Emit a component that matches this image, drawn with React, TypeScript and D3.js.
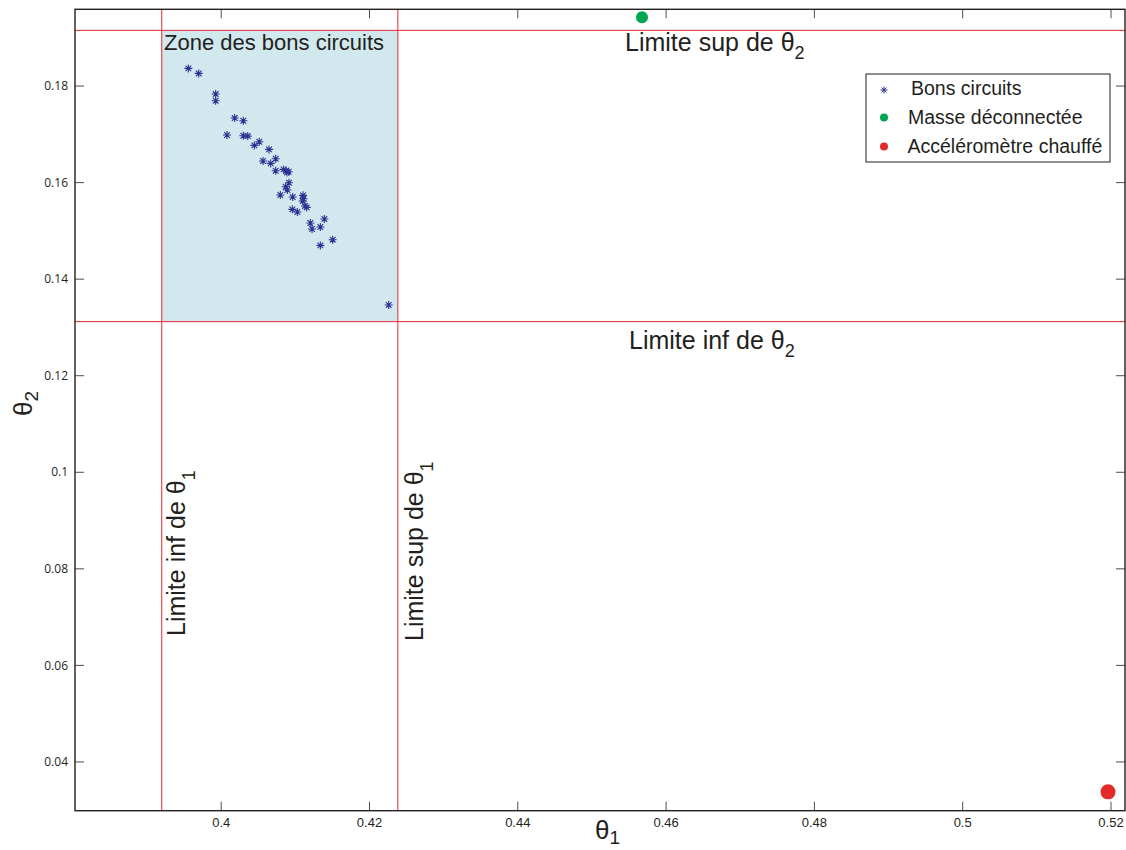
import React from "react";
import * as d3 from "d3";

// ---- data ----
const goodTheta1 = [
  0.39557, 0.39696, 0.39925, 0.39925, 0.40182, 0.40298, 0.40078, 0.40298, 0.40357, 0.40447,
  0.40514, 0.40645, 0.40564, 0.40667, 0.40735, 0.40735, 0.40842, 0.40874, 0.4091, 0.40887,
  0.40914, 0.40869, 0.40892, 0.40797, 0.40964, 0.41103, 0.41108, 0.41099, 0.4113, 0.41153,
  0.40959, 0.41027, 0.41202, 0.41391, 0.41225, 0.41337, 0.41337, 0.41503, 0.42259,
];
const goodTheta2 = [
  0.18366, 0.18262, 0.17834, 0.17696, 0.17337, 0.17282, 0.16985, 0.16971, 0.16964, 0.16771,
  0.16847, 0.16688, 0.16447, 0.16398, 0.16495, 0.16247, 0.16274, 0.16247, 0.16226, 0.16212,
  0.15998, 0.15915, 0.15846, 0.15743, 0.15701, 0.15736, 0.15667, 0.15618, 0.15515, 0.15487,
  0.15446, 0.15391, 0.15163, 0.15246, 0.15038, 0.1508, 0.147, 0.14818, 0.13465,
];
const disconnectedTheta1 = [0.45675];
const disconnectedTheta2 = [0.19423];
const heatedTheta1 = [0.5196];
const heatedTheta2 = [0.0338];

const theta1Limits = [0.39198, 0.42382];
const theta2Limits = [0.1312, 0.19154];

const xTicks = [0.4, 0.42, 0.44, 0.46, 0.48, 0.5, 0.52];
const xTickLabels = ["0.4", "0.42", "0.44", "0.46", "0.48", "0.5", "0.52"];
const yTicks = [0.04, 0.06, 0.08, 0.1, 0.12, 0.14, 0.16, 0.18];
const yTickLabels = ["0.04", "0.06", "0.08", "0.1", "0.12", "0.14", "0.16", "0.18"];

const legendLabels = ["Bons circuits", "Masse déconnectée", "Accéléromètre chauffé"];

// ---- layout ----
const W = 1126;
const H = 850;
const L = 75, R = 1125, T = 9.3, B = 810.7;

const BLUE = "#2e3192";
const GREEN = "#00a651";
const REDDOT = "#e32a2a";
const RED = "#e8262d";
const INK = "#231f20";

function asterisk(cx: number, cy: number, r: number) {
  const d = r * Math.SQRT1_2;
  return `M${cx - r},${cy}L${cx + r},${cy}M${cx},${cy - r}L${cx},${cy + r}` +
    `M${cx - d},${cy - d}L${cx + d},${cy + d}M${cx - d},${cy + d}L${cx + d},${cy - d}`;
}

export default function App() {
  const x = d3.scaleLinear().domain([0.38028, 0.52189]).range([L, R]);
  const y = d3.scaleLinear().domain([0.0299, 0.1959]).range([B, T]);

  const font = "'Liberation Sans', Arial, Helvetica, sans-serif";
  const tickLen = 9;

  return (
    <svg width={W} height={H} style={{ position: "absolute", left: 0, top: 0, background: "#fff" }}
      fontFamily={font}>
      {/* zone */}
      <rect x={x(theta1Limits[0])} y={y(theta2Limits[1])}
        width={x(theta1Limits[1]) - x(theta1Limits[0])}
        height={y(theta2Limits[0]) - y(theta2Limits[1])} fill="#d1e8ef" />

      {/* limit lines */}
      <line x1={L} x2={R} y1={y(theta2Limits[1])} y2={y(theta2Limits[1])} stroke={RED} strokeWidth={1} />
      <line x1={L} x2={R} y1={y(theta2Limits[0])} y2={y(theta2Limits[0])} stroke={RED} strokeWidth={1} />
      <line y1={T} y2={B} x1={x(theta1Limits[0])} x2={x(theta1Limits[0])} stroke={RED} strokeWidth={1} />
      <line y1={T} y2={B} x1={x(theta1Limits[1])} x2={x(theta1Limits[1])} stroke={RED} strokeWidth={1} />

      {/* axes box & ticks */}
      <rect x={L} y={T} width={R - L} height={B - T} fill="none" stroke={INK} strokeWidth={1.4} />
      {xTicks.map((t, i) => (
        <g key={"xt" + i}>
          <line x1={x(t)} x2={x(t)} y1={B} y2={B - tickLen} stroke={INK} strokeWidth={0.8} />
          <line x1={x(t)} x2={x(t)} y1={T} y2={T + tickLen} stroke={INK} strokeWidth={0.8} />
          <text x={x(t)} y={827} textAnchor="middle" fontSize={13}
            fontFamily="'Liberation Sans Narrow', 'Liberation Sans', sans-serif" fill={INK}>{xTickLabels[i]}</text>
        </g>
      ))}
      {yTicks.map((t, i) => (
        <g key={"yt" + i}>
          <line x1={L} x2={L + tickLen} y1={y(t)} y2={y(t)} stroke={INK} strokeWidth={0.8} />
          <line x1={R} x2={R - tickLen} y1={y(t)} y2={y(t)} stroke={INK} strokeWidth={0.8} />
          <text x={68} y={y(t)} dy="0.35em" textAnchor="end" fontSize={12}
            fontFamily="'Open Sans', sans-serif" fill={INK}>{yTickLabels[i]}</text>
        </g>
      ))}

      {/* good circuits */}
      {goodTheta1.map((t1, i) => (
        <path key={"g" + i} d={asterisk(x(t1), y(goodTheta2[i]), 4)} stroke={BLUE} strokeWidth={1.1} fill="none" />
      ))}
      {disconnectedTheta1.map((t1, i) => (
        <circle key={"d" + i} cx={x(t1)} cy={y(disconnectedTheta2[i])} r={6} fill={GREEN} />
      ))}
      {heatedTheta1.map((t1, i) => (
        <circle key={"h" + i} cx={x(t1)} cy={y(heatedTheta2[i])} r={7.5} fill={REDDOT} />
      ))}

      {/* annotations */}
      <text x={164} y={50} fontSize={22} fill={INK}>Zone des bons circuits</text>
      <text x={625} y={51} fontSize={25} fill={INK}>Limite sup de θ<tspan dy={8} fontSize={18}>2</tspan></text>
      <text x={629} y={349} fontSize={25} fill={INK}>Limite inf de θ<tspan dy={8} fontSize={18}>2</tspan></text>
      <text transform={`translate(185,636) rotate(-90)`} fontSize={25} fill={INK}>
        Limite inf de θ<tspan dy={10} fontSize={18}>1</tspan>
      </text>
      <text transform={`translate(423,641) rotate(-90)`} fontSize={25} fill={INK}>
        Limite sup de θ<tspan dy={10} fontSize={18}>1</tspan>
      </text>

      {/* axis labels */}
      <text x={595} y={839} fontSize={26} fill={INK}>θ<tspan dy={5} fontSize={19}>1</tspan></text>
      <text transform={`translate(32,416) rotate(-90)`} fontSize={26} fill={INK}>
        θ<tspan dy={6} fontSize={19}>2</tspan>
      </text>

      {/* legend */}
      <rect x={866} y={74} width={244} height={88} fill="#fff" stroke={INK} strokeWidth={1} />
      <path d={asterisk(884, 90, 3.5)} stroke={BLUE} strokeWidth={1} fill="none" />
      <circle cx={884} cy={117.5} r={4} fill={GREEN} />
      <circle cx={884} cy={146.5} r={4} fill={REDDOT} />
      <text x={911} y={94.5} fontSize={19.5} fill={INK}>{legendLabels[0]}</text>
      <text x={908} y={124} fontSize={19.5} fill={INK}>{legendLabels[1]}</text>
      <text x={907.5} y={153} fontSize={19.5} fill={INK}>{legendLabels[2]}</text>
    </svg>
  );
}
